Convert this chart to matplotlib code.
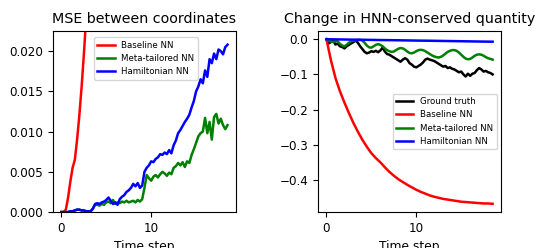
import numpy as np
import matplotlib.pyplot as plt

# time grids (time steps)
t_fine = np.arange(0, 18.51, 0.25)
t_coarse = np.arange(0, 18.51, 0.5)

# MSE between coordinates
mse_baseline = [0.0, 0.0, 0.0003, 0.0018, 0.0038, 0.0055, 0.0065, 0.0090, 0.0120,
                0.0155, 0.0195, 0.0240, 0.0290, 0.0350]
mse_meta = [0.0, 0.0, 0.0, 0.0, 0.0001, 0.0001, 0.0002, 0.0003, 0.0003, 0.0002,
            0.0002, 0.0001, 0.0001, 0.0001, 0.0004,
            0.0009, 0.0009, 0.0008, 0.0010, 0.0009, 0.0012, 0.0013, 0.0011, 0.0015,
            0.0010, 0.0012, 0.0011, 0.0013, 0.0012, 0.0014, 0.0012, 0.0013,
            0.0014, 0.0012, 0.0015, 0.0013, 0.0016, 0.0030, 0.0046, 0.0042,
            0.0039, 0.0044, 0.0046, 0.0043, 0.0047, 0.0050, 0.0048, 0.0045,
            0.0049, 0.0047, 0.0055, 0.0057, 0.0061, 0.0058, 0.0062, 0.0056,
            0.0063, 0.0061, 0.0071, 0.0078, 0.0086, 0.0094, 0.0098, 0.0100,
            0.0117, 0.0098, 0.0112, 0.0090, 0.0118, 0.0122, 0.0110, 0.0116,
            0.0108, 0.0103, 0.0108]
mse_hnn = [0.0, 0.0, 0.0, 0.0, 0.0001, 0.0001, 0.0002, 0.0003, 0.0003, 0.0002,
           0.0002, 0.0001, 0.0001, 0.0001, 0.0004,
           0.0010, 0.0011, 0.0010, 0.0012, 0.0013, 0.0015, 0.0018, 0.0014, 0.0010,
           0.0012, 0.0009, 0.0016, 0.0019, 0.0021, 0.0025, 0.0027, 0.0030,
           0.0035, 0.0032, 0.0036, 0.0030, 0.0033, 0.0050, 0.0055, 0.0058,
           0.0063, 0.0062, 0.0066, 0.0068, 0.0072, 0.0071, 0.0074, 0.0072,
           0.0077, 0.0073, 0.0083, 0.0089, 0.0098, 0.0102, 0.0107, 0.0112,
           0.0116, 0.0121, 0.0130, 0.0138, 0.0150, 0.0156, 0.0165, 0.0160,
           0.0176, 0.0168, 0.0190, 0.0185, 0.0197, 0.0190, 0.0202, 0.0200,
           0.0196, 0.0205, 0.0208]

# Change in HNN-conserved quantity
dh_truth = [0.0, -0.012, -0.008, -0.004, -0.015, -0.012, -0.020, -0.022, -0.026,
            -0.020, -0.016, -0.012, -0.008, -0.004, -0.010, -0.020, -0.028,
            -0.036, -0.040, -0.038, -0.034, -0.036, -0.033, -0.037, -0.032,
            -0.024, -0.035, -0.042, -0.044, -0.048, -0.052, -0.056, -0.060,
            -0.064, -0.058, -0.054, -0.058, -0.068, -0.072, -0.078, -0.080,
            -0.076, -0.072, -0.066, -0.058, -0.055, -0.058, -0.060, -0.062,
            -0.066, -0.070, -0.074, -0.078, -0.076, -0.082, -0.080, -0.084,
            -0.086, -0.090, -0.094, -0.092, -0.100, -0.106, -0.098, -0.104,
            -0.098, -0.096, -0.088, -0.082, -0.086, -0.092, -0.090, -0.094,
            -0.096, -0.100]
dh_meta = [0.0, -0.003, -0.007, -0.008, -0.004, -0.006, -0.013, -0.018, -0.020,
           -0.016, -0.010, -0.006, -0.004, -0.003, -0.002, -0.002, -0.004,
           -0.010, -0.018, -0.023, -0.024, -0.020, -0.016, -0.014, -0.016,
           -0.020, -0.026, -0.031, -0.034, -0.036, -0.035, -0.031, -0.027,
           -0.025, -0.026, -0.030, -0.035, -0.039, -0.040, -0.038, -0.034,
           -0.031, -0.030, -0.031, -0.034, -0.038, -0.042, -0.046, -0.049,
           -0.051, -0.052, -0.050, -0.046, -0.041, -0.036, -0.033, -0.031,
           -0.031, -0.033, -0.038, -0.044, -0.050, -0.055, -0.057, -0.056,
           -0.052, -0.047, -0.044, -0.043, -0.044, -0.047, -0.051, -0.054,
           -0.056, -0.058]
dh_baseline = [0.0, -0.060, -0.110, -0.148, -0.180, -0.210, -0.238, -0.263, -0.286,
               -0.306, -0.324, -0.338, -0.350, -0.364, -0.377, -0.388, -0.398,
               -0.406, -0.414, -0.421, -0.428, -0.434, -0.439, -0.444, -0.448,
               -0.451, -0.454, -0.456, -0.458, -0.460, -0.462, -0.463, -0.464,
               -0.465, -0.466, -0.467, -0.467, -0.468]
dh_hnn = [0.0, -0.0002, -0.0004, -0.0006, -0.0008, -0.0010, -0.0012, -0.0013,
          -0.0015, -0.0017, -0.0019, -0.0021, -0.0023, -0.0025, -0.0026, -0.0028,
          -0.0030, -0.0032, -0.0034, -0.0036, -0.0038, -0.0040, -0.0041, -0.0043,
          -0.0045, -0.0047, -0.0049, -0.0051, -0.0053, -0.0055, -0.0057, -0.0059,
          -0.0061, -0.0063, -0.0065, -0.0067, -0.0069, -0.0070]

xticks = [0, 10]

fig = plt.figure(figsize=(5.41, 2.48), dpi=100)
ax1 = fig.add_axes([0.098, 0.145, 0.338, 0.730])
ax2 = fig.add_axes([0.588, 0.145, 0.338, 0.730])

lw = 1.8

# left panel
ax1.plot(t_fine[:len(mse_baseline)], mse_baseline, color='red', lw=lw, label='Baseline NN')
ax1.plot(t_fine[:len(mse_meta)], mse_meta, color='green', lw=lw, label='Meta-tailored NN')
ax1.plot(t_fine[:len(mse_hnn)], mse_hnn, color='blue', lw=lw, label='Hamiltonian NN')
ax1.set_ylim(0, 0.0225)
ax1.set_xlim(-0.93, 19.43)
ax1.set_xticks(xticks)
ax1.set_title('MSE between coordinates', fontsize=10.3)
ax1.set_xlabel('Time step', fontsize=8.8)
ax1.tick_params(labelsize=8.6)
ax1.legend(loc='upper left', bbox_to_anchor=(0.2, 0.99), fontsize=6.2)

# right panel
ax2.plot(t_fine[:len(dh_truth)], dh_truth, color='black', lw=lw, label='Ground truth')
ax2.plot(t_coarse[:len(dh_baseline)], dh_baseline, color='red', lw=lw, label='Baseline NN')
ax2.plot(t_fine[:len(dh_meta)], dh_meta, color='green', lw=lw, label='Meta-tailored NN')
ax2.plot(t_coarse[:len(dh_hnn)], dh_hnn, color='blue', lw=lw, label='Hamiltonian NN')
ax2.set_xlim(-0.93, 19.43)
ax2.set_xticks(xticks)
ax2.set_title('Change in HNN-conserved quantity', fontsize=10.3)
ax2.set_xlabel('Time step', fontsize=8.8)
ax2.tick_params(labelsize=8.6)
ax2.legend(loc='center right', fontsize=6.2)

fig.savefig('out.png', dpi=100)
